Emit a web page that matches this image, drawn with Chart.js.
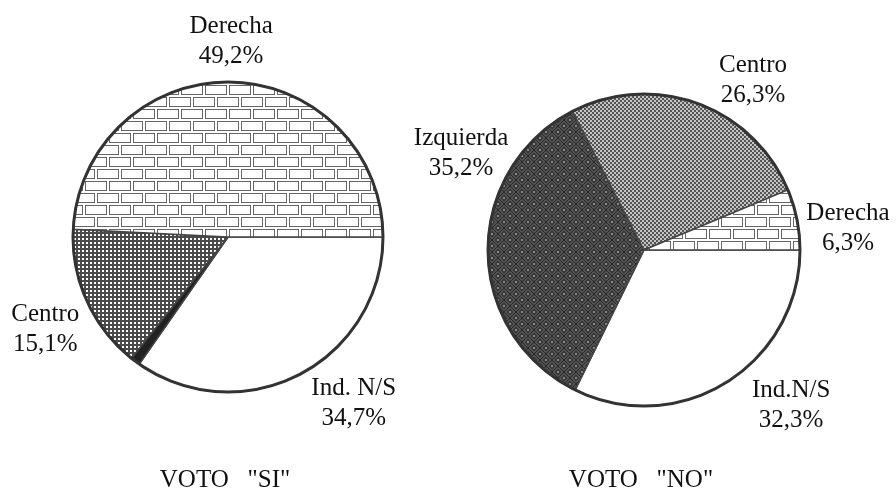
<!DOCTYPE html>
<html>
<head>
<meta charset="utf-8">
<script src="https://cdn.jsdelivr.net/npm/chart.js@4.4.0/dist/chart.umd.min.js"></script>
<style>
  html, body { margin: 0; padding: 0; background: #fff; }
  #wrap { position: relative; width: 896px; height: 490px; }
  canvas { position: absolute; top: 0; left: 0; }
</style>
</head>
<body>
<div id="wrap">
  <canvas id="si" width="896" height="490"></canvas>
  <canvas id="no" width="896" height="490"></canvas>
</div>
<script>
// Datos - voto SI (orden horario desde las 3 en punto)
const siCategories = ['Ind. N/S', 'Izquierda', 'Centro', 'Derecha'];
const siValues = [34.7, 1.0, 15.1, 49.2];
const siTitle = 'VOTO   "SI"';

// Datos - voto NO
const noCategories = ['Ind.N/S', 'Izquierda', 'Centro', 'Derecha'];
const noValues = [32.3, 35.2, 26.3, 6.3];
const noTitle = 'VOTO   "NO"';

// Posición de etiquetas: [ángulo en grados, distancia fuera del borde]
const siLabelLayout = [[52.6, 52], null, [153.6, 49], [270.9, 43]];
const noLabelLayout = [[46.3, 57], [208.4, 52], [302.4, 47.6], [353.3, 49.4]];

const FONT = '25px "Liberation Serif", "Times New Roman", serif';

// Tramas
function makePattern(w, h, draw) {
  const c = document.createElement('canvas');
  c.width = w; c.height = h;
  const g = c.getContext('2d');
  draw(g);
  return g.createPattern(c, 'repeat');
}

const brick = makePattern(24, 24, g => {
  g.fillStyle = '#fff';
  g.fillRect(0, 0, 24, 24);
  g.strokeStyle = '#666';
  g.lineWidth = 1;
  g.strokeRect(1.5, 1.5, 21, 9);
  g.strokeRect(-10.5, 13.5, 21, 9);
  g.strokeRect(13.5, 13.5, 21, 9);
});

const checkDark = makePattern(4, 4, g => {
  g.fillStyle = '#fff';
  g.fillRect(0, 0, 4, 4);
  g.fillStyle = '#4a4a4a';
  g.fillRect(0, 0, 4, 2);
  g.fillRect(0, 0, 2, 4);
});

const dotsLight = makePattern(4, 4, g => {
  g.fillStyle = '#c4c4c4';
  g.fillRect(0, 0, 4, 4);
  g.fillStyle = '#555';
  g.fillRect(0, 0, 2, 2);
  g.fillRect(2, 2, 2, 2);
});

const diamonds = makePattern(12, 12, g => {
  g.fillStyle = '#2a2a2a';
  g.fillRect(0, 0, 12, 12);
  [[6, 0], [0, 6], [12, 6], [6, 12]].forEach(([x, y]) => {
    g.strokeStyle = '#7a7a7a';
    g.lineWidth = 1;
    g.beginPath();
    g.moveTo(x, y - 4.5); g.lineTo(x + 4.5, y); g.lineTo(x, y + 4.5); g.lineTo(x - 4.5, y); g.closePath();
    g.stroke();
    g.strokeStyle = '#4a4a4a';
    g.beginPath();
    g.moveTo(x, y - 2.5); g.lineTo(x + 2.5, y); g.lineTo(x, y + 2.5); g.lineTo(x - 2.5, y); g.closePath();
    g.stroke();
    g.fillStyle = '#ccc';
    g.fillRect(x - 0.75, y - 0.75, 1.5, 1.5);
  });
});

// etiquetas, círculo exterior y título
const piePlugin = {
  id: 'pieDecor',
  afterDatasetsDraw(chart, args, opts) {
    const ctx = chart.ctx;
    const arcs = chart.getDatasetMeta(0).data;
    const { x, y, outerRadius } = arcs[0];
    ctx.save();
    ctx.beginPath();
    ctx.arc(x, y, outerRadius, 0, Math.PI * 2);
    ctx.lineWidth = 3;
    ctx.strokeStyle = '#333';
    ctx.stroke();

    ctx.fillStyle = '#111';
    ctx.font = FONT;
    ctx.textAlign = 'center';
    ctx.textBaseline = 'alphabetic';
    const values = chart.data.datasets[0].data;
    chart.data.labels.forEach((name, i) => {
      const lay = opts.layout[i];
      if (!lay) return;
      const a = lay[0] * Math.PI / 180;
      const d = outerRadius + lay[1];
      const lx = x + Math.cos(a) * d;
      const ly = y + Math.sin(a) * d;
      ctx.fillText(name, lx, ly - 6.5);
      ctx.fillText(values[i].toFixed(1).replace('.', ',') + '%', lx, ly + 23.5);
    });
    ctx.fillText(opts.title, x - 3, 487);
    ctx.restore();
  }
};

function makePie(id, categories, values, fills, layout, title, cx, cy, r) {
  const W = 896, H = 490, bw = 1.5;
  const R = r + bw / 2;
  return new Chart(document.getElementById(id), {
    type: 'pie',
    data: {
      labels: categories,
      datasets: [{
        data: values,
        backgroundColor: fills,
        borderColor: '#444',
        borderWidth: bw,
      }],
    },
    options: {
      responsive: false,
      animation: false,
      events: [],
      rotation: 90,
      layout: {
        padding: { left: cx - R, right: W - (cx + R), top: cy - R, bottom: H - (cy + R) },
      },
      plugins: {
        legend: { display: false },
        tooltip: { enabled: false },
        pieDecor: { layout: layout, title: title },
      },
    },
    plugins: [piePlugin],
  });
}

makePie('si', siCategories, siValues, ['#fff', '#222', checkDark, brick], siLabelLayout, siTitle, 228, 237, 155);
makePie('no', noCategories, noValues, ['#fff', diamonds, dotsLight, brick], noLabelLayout, noTitle, 644, 250, 156);
</script>
</body>
</html>
